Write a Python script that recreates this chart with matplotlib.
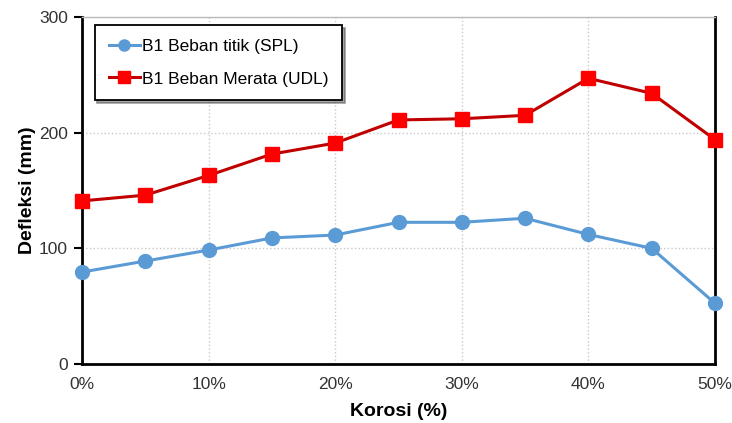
import matplotlib
matplotlib.use('Agg')
import matplotlib.pyplot as plt
from matplotlib.ticker import PercentFormatter

plt.rcParams['font.family'] = ['Liberation Sans', 'DejaVu Sans']

korosi = [0, 5, 10, 15, 20, 25, 30, 35, 40, 45, 50]
spl = [79.5, 89, 98.5, 109, 111.5, 122.5, 122.5, 126, 112, 100, 52.5]
udl = [141, 146, 163, 181.5, 191, 211, 212, 215, 247, 234, 194]

fig = plt.figure(figsize=(7.32, 4.23), dpi=100)
ax = fig.add_axes([82/732, 1 - 364/423, (715-82)/732, (364-17)/423])

ax.plot(korosi, spl, color='#5b9bd5', lw=2.2, marker='o', ms=10,
        label='B1 Beban titik (SPL)', zorder=3, clip_on=False)
ax.plot(korosi, udl, color='#c00000', lw=2.2, marker='s', ms=10,
        mfc='#ff0000', mec='#ff0000', label='B1 Beban Merata (UDL)', zorder=3,
        clip_on=False)

ax.set_xlim(0, 50)
ax.set_ylim(0, 300)
ax.set_xticks([0, 10, 20, 30, 40, 50])
ax.set_yticks([0, 100, 200, 300])
ax.xaxis.set_major_formatter(PercentFormatter(decimals=0))
ax.grid(True, color='#c8c8c8', ls=':', lw=1)
ax.tick_params(axis='x', length=0, pad=9, labelsize=12.5, labelcolor='#333333')
ax.tick_params(axis='y', length=6, width=1.5, direction='out', labelsize=12.5,
               labelcolor='#333333', pad=4)
for s in ['left', 'bottom', 'right']:
    ax.spines[s].set_linewidth(2)
ax.spines['top'].set_color('#bbbbbb')
ax.spines['top'].set_linewidth(1)

ax.set_xlabel('Korosi (%)', fontsize=14, fontweight='bold', labelpad=8)
ax.set_ylabel('Defleksi (mm)', fontsize=14, fontweight='bold', labelpad=2)

leg = ax.legend(loc='upper left', bbox_to_anchor=(0.02, 0.977), fontsize=12.5,
                frameon=True, fancybox=False, shadow=True, edgecolor='black',
                handlelength=1.8, handletextpad=0.1, borderpad=0.8, labelspacing=1.0,
                markerscale=0.8, borderaxespad=0, framealpha=1)
leg.get_frame().set_linewidth(1.3)

fig.savefig('out.png', dpi=100)
